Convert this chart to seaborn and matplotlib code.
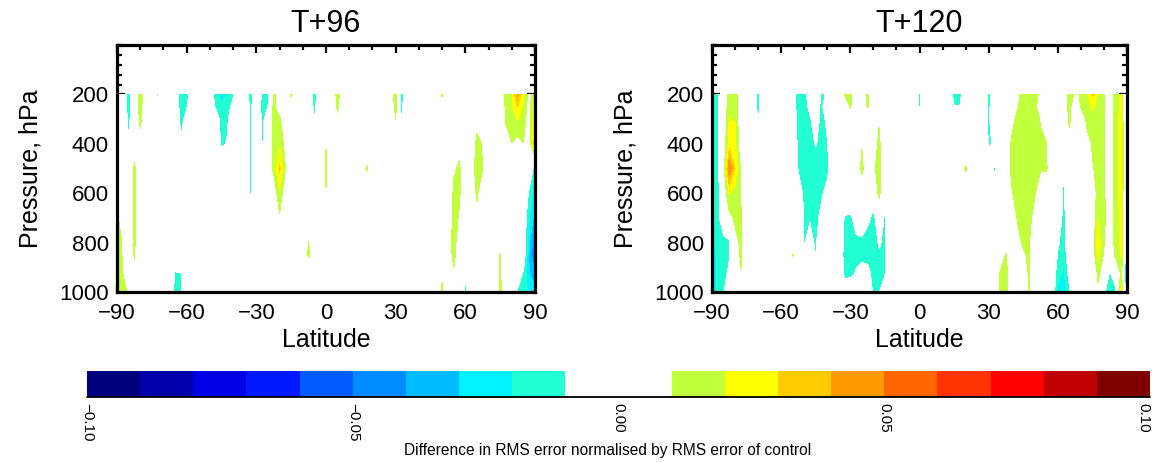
import numpy as np
import matplotlib
matplotlib.use("Agg")
import matplotlib.pyplot as plt
from matplotlib.ticker import MultipleLocator
import seaborn as sns

# ---------------- data ----------------
latitudes = np.arange(-90, 90.01, 2.5)
pressure_levels = [200, 250, 300, 400, 500, 600, 700, 800, 850, 925, 1000]
panel_titles = ["T+96", "T+120"]
contour_levels = np.round(np.arange(-0.10, 0.1001, 0.01), 2)
band_colors = ["#00007F", "#0000A8", "#0000E6", "#0018FF", "#005CFF",
               "#008CFF", "#00BCFF", "#00F2FF", "#22FFD2", "#FFFFFF",
               "#FFFFFF", "#C2FF3C", "#FFFF00", "#FFCC00", "#FF9A00",
               "#FF6600", "#FF3300", "#FF0000", "#C00000", "#800000"]
cbar_ticks = [-0.10, -0.05, 0.0, 0.05, 0.10]
cbar_ticklabels = ["\u22120.10", "\u22120.05", "0.00", "0.05", "0.10"]
lat_ticks = [-90, -60, -30, 0, 30, 60, 90]
lat_ticklabels = ["\u221290", "\u221260", "\u221230", "0", "30", "60", "90"]
pressure_ticks = [200, 400, 600, 800, 1000]
cbar_label = "Difference in RMS error normalised by RMS error of control"

# (latitude, pressure hPa, value); unlisted grid points are 0
t96_points = [
    (-90, 200, -0.012), (-90, 250, -0.008), (-90, 400, -0.005), (-90, 500, -0.012),
    (-90, 600, 0.009), (-90, 700, 0.013), (-90, 800, 0.015), (-90, 850, 0.016),
    (-90, 925, 0.017), (-90, 1000, 0.018),
    (-87.5, 800, 0.009), (-87.5, 850, 0.009), (-87.5, 925, 0.010), (-87.5, 1000, 0.012),
    (-85, 1000, 0.009),
    (-85, 200, -0.017), (-85, 250, -0.015), (-85, 300, -0.013), (-85, 400, -0.009),
    (-80, 200, 0.016), (-80, 250, 0.014), (-80, 300, 0.012), (-80, 400, 0.007),
    (-82.5, 400, 0.006), (-82.5, 500, 0.0115), (-82.5, 600, 0.0115), (-82.5, 700, 0.0115),
    (-82.5, 800, 0.0115), (-82.5, 850, 0.011), (-82.5, 925, 0.007),
    (-72.5, 200, -0.012), (-80, 850, -0.0105),
    (-62.5, 200, -0.017), (-62.5, 250, -0.015), (-62.5, 300, -0.013), (-62.5, 400, -0.009),
    (-60, 200, -0.015), (-60, 250, -0.011), (-60, 300, -0.007),
    (-65, 1000, -0.014), (-62.5, 1000, -0.011), (-65, 925, -0.011), (-62.5, 925, -0.0105),
    (-60, 850, -0.0105),
    (-47.5, 200, -0.016), (-45, 200, -0.024), (-42.5, 200, -0.0195), (-40, 200, -0.012),
    (-47.5, 250, -0.012), (-45, 250, -0.018), (-42.5, 250, -0.015), (-40, 250, -0.006),
    (-45, 300, -0.016), (-42.5, 300, -0.012), (-45, 400, -0.012), (-42.5, 400, -0.009),
    (-32.5, 200, -0.015), (-32.5, 250, -0.013), (-32.5, 300, -0.012), (-32.5, 400, -0.012),
    (-32.5, 500, -0.0115), (-32.5, 600, -0.011), (-32.5, 700, -0.008),
    (-27.5, 200, -0.012), (-25, 200, -0.012), (-27.5, 250, -0.013), (-27.5, 300, -0.012),
    (-27.5, 400, -0.0115), (-27.5, 500, -0.0095), (-25, 250, -0.010), (-25, 300, -0.006),
    (-22.5, 200, 0.013), (-22.5, 250, 0.013), (-22.5, 300, 0.013), (-22.5, 400, 0.014),
    (-22.5, 500, 0.013), (-20, 300, 0.012), (-20, 400, 0.018), (-20, 500, 0.032),
    (-20, 600, 0.019), (-20, 700, 0.008), (-17.5, 500, 0.010), (-17.5, 400, 0.006),
    (-15, 200, 0.012), (-20, 850, -0.011),
    (-5, 200, -0.016), (-5, 250, -0.013), (-5, 300, -0.0098),
    (5, 200, 0.014), (5, 250, 0.0115), (5, 300, 0.008),
    (0, 400, 0.0095), (0, 500, 0.0115), (0, 600, 0.0095),
    (-7.5, 800, 0.0105), (-7.5, 850, 0.0115),
    (30, 200, 0.016), (30, 250, 0.013), (30, 300, 0.010),
    (32.5, 200, -0.015), (32.5, 250, -0.013), (32.5, 300, -0.011), (32.5, 400, -0.005),
    (17.5, 500, 0.0115),
    (22.5, 500, -0.0108), (22.5, 600, -0.011), (20, 700, -0.011), (20, 800, -0.0108),
    (20, 850, -0.0103),
    (50, 200, 0.012),
    (55, 500, 0.009), (55, 600, 0.0115), (55, 700, 0.013), (55, 800, 0.016), (55, 850, 0.014),
    (55, 925, 0.008), (57.5, 400, 0.008), (57.5, 500, 0.011), (57.5, 600, 0.011),
    (57.5, 700, 0.009),
    (65, 300, 0.006), (65, 400, 0.013), (65, 500, 0.017), (65, 600, 0.012), (65, 700, 0.006),
    (67.5, 400, 0.009), (67.5, 500, 0.010),
    (50, 1000, 0.012), (50, 925, 0.008), (60, 1000, -0.013), (60, 925, -0.009),
    (75, 850, 0.0105), (75, 925, 0.0115), (75, 1000, 0.012),
    (77.5, 200, 0.013), (77.5, 250, 0.012), (77.5, 300, 0.011), (77.5, 400, 0.006),
    (80, 200, 0.019), (80, 250, 0.018), (80, 300, 0.014), (80, 400, 0.0098),
    (82.5, 200, 0.042), (82.5, 250, 0.030), (82.5, 300, 0.021), (82.5, 400, 0.005),
    (85, 200, 0.022), (85, 250, 0.018), (85, 300, 0.014), (85, 400, 0.0098),
    (87.5, 200, 0.004), (87.5, 250, 0.004), (87.5, 300, 0.004),
    (90, 200, 0.022), (90, 250, 0.025), (90, 300, 0.028), (90, 400, 0.038),
    (90, 500, -0.015), (90, 600, -0.025), (90, 700, -0.035), (90, 800, -0.050),
    (90, 850, -0.052), (90, 925, -0.040), (90, 1000, -0.025),
    (87.5, 600, -0.012), (87.5, 700, -0.020), (87.5, 800, -0.028), (87.5, 850, -0.032),
    (87.5, 925, -0.030), (87.5, 1000, -0.022),
    (85, 925, -0.012), (85, 1000, -0.015), (82.5, 1000, -0.012), (82.5, 500, -0.0105),
]

t120_points = [
    (-90, 200, -0.025), (-90, 250, -0.025), (-90, 300, -0.025), (-90, 400, -0.028),
    (-90, 500, -0.025), (-90, 600, -0.022), (-90, 700, -0.025), (-90, 800, -0.030),
    (-90, 850, -0.033), (-90, 925, -0.038), (-90, 1000, -0.040),
    (-87.5, 200, -0.012), (-87.5, 250, -0.012), (-87.5, 300, -0.012), (-87.5, 400, -0.012),
    (-87.5, 500, -0.012), (-87.5, 600, -0.014), (-87.5, 700, -0.014), (-87.5, 800, -0.015),
    (-87.5, 850, -0.015), (-87.5, 925, -0.015), (-87.5, 1000, -0.015),
    (-85, 800, -0.014), (-85, 850, -0.015), (-85, 925, -0.013), (-85, 1000, -0.011),
    (-82.5, 800, -0.012), (-82.5, 850, -0.011), (-82.5, 925, -0.008),
    (-82.5, 200, 0.014), (-82.5, 250, 0.016), (-82.5, 300, 0.0205), (-82.5, 400, 0.025),
    (-82.5, 500, 0.050), (-82.5, 600, 0.021), (-82.5, 700, 0.006),
    (-80, 200, 0.016), (-80, 250, 0.017), (-80, 300, 0.0195), (-80, 400, 0.023),
    (-80, 500, 0.030), (-80, 600, 0.016), (-80, 700, 0.012), (-80, 800, 0.006),
    (-85, 500, 0.003), (-77.5, 500, 0.008),
    (-77.5, 600, 0.009), (-77.5, 700, 0.0115), (-77.5, 800, 0.012), (-77.5, 850, 0.012),
    (-77.5, 925, 0.0095),
    (-70, 200, -0.014), (-70, 250, -0.013), (-70, 300, -0.011), (-70, 400, -0.007),
    (-52.5, 200, -0.018), (-52.5, 250, -0.018), (-52.5, 300, -0.016), (-52.5, 400, -0.013),
    (-52.5, 500, -0.011), (-52.5, 600, -0.005),
    (-50, 200, -0.013), (-50, 250, -0.013), (-50, 300, -0.015), (-50, 400, -0.016),
    (-50, 500, -0.016), (-50, 600, -0.012), (-50, 700, -0.011), (-50, 800, -0.0105),
    (-50, 850, -0.0105), (-50, 925, -0.0105), (-50, 1000, -0.011),
    (-47.5, 200, -0.006), (-47.5, 250, -0.008), (-47.5, 300, -0.011), (-47.5, 400, -0.014),
    (-47.5, 500, -0.018), (-47.5, 600, -0.014), (-47.5, 700, -0.011), (-47.5, 800, -0.006),
    (-45, 250, -0.002), (-45, 300, -0.005), (-45, 400, -0.009), (-45, 500, -0.018),
    (-45, 600, -0.016), (-45, 700, -0.014), (-45, 800, -0.012), (-45, 850, -0.0105),
    (-45, 925, -0.005),
    (-42.5, 200, -0.013), (-42.5, 250, -0.013), (-42.5, 300, -0.013), (-42.5, 400, -0.015),
    (-42.5, 500, -0.017), (-42.5, 600, -0.012), (-42.5, 700, -0.006),
    (-40, 200, -0.008), (-40, 300, -0.008), (-40, 400, -0.0105), (-40, 500, -0.014),
    (-40, 600, -0.005),
    (-32.5, 700, -0.011), (-32.5, 800, -0.013), (-32.5, 850, -0.014), (-32.5, 925, -0.012),
    (-32.5, 1000, -0.005),
    (-30, 700, -0.012), (-30, 800, -0.014), (-30, 850, -0.015), (-30, 925, -0.013),
    (-27.5, 700, -0.006), (-27.5, 800, -0.012), (-27.5, 850, -0.013), (-27.5, 925, -0.009),
    (-25, 800, -0.013), (-25, 850, -0.012), (-25, 925, -0.007),
    (-22.5, 700, -0.008), (-22.5, 800, -0.014), (-22.5, 850, -0.012), (-22.5, 925, -0.008),
    (-20, 600, -0.006), (-20, 700, -0.012), (-20, 800, -0.014), (-20, 850, -0.013),
    (-20, 925, -0.012), (-20, 1000, -0.012),
    (-17.5, 700, -0.005), (-17.5, 800, -0.009), (-17.5, 850, -0.011), (-17.5, 925, -0.013),
    (-17.5, 1000, -0.011),
    (-17.5, 300, 0.008), (-17.5, 400, 0.014), (-17.5, 500, 0.019), (-17.5, 600, 0.014),
    (-20, 500, 0.005),
    (-15, 200, -0.0105), (-15, 250, -0.0105), (-15, 300, -0.0105), (-15, 400, -0.011),
    (-15, 500, -0.011), (-15, 600, -0.0105), (-15, 700, -0.011), (-15, 800, -0.012),
    (-15, 850, -0.012), (-15, 925, -0.011),
    (-30, 200, 0.014), (-30, 250, 0.011), (-30, 300, 0.005), (-32.5, 200, 0.010),
    (-22.5, 200, 0.013), (-22.5, 250, 0.011),
    (-25, 400, 0.009), (-25, 500, 0.013),
    (0, 200, -0.013), (0, 250, -0.011),
    (-67.5, 1000, -0.012), (-60, 1000, -0.011), (-60, 925, -0.0095), (-35, 1000, -0.012),
    (-55, 850, 0.0108),
    (15, 200, -0.014), (17.5, 200, -0.014), (15, 250, -0.0095), (17.5, 250, -0.0095),
    (30, 200, -0.014), (30, 250, -0.013), (30, 300, -0.012), (30, 400, -0.011),
    (32.5, 400, -0.009), (32.5, 500, -0.0112), (32.5, 600, -0.0105), (32.5, 700, -0.008),
    (20, 500, 0.0115),
    (40, 300, 0.006), (40, 400, 0.012), (40, 500, 0.013), (40, 600, 0.009),
    (42.5, 200, 0.008), (42.5, 250, 0.009), (42.5, 300, 0.013), (42.5, 400, 0.016),
    (42.5, 500, 0.017), (42.5, 600, 0.014), (42.5, 700, 0.011), (42.5, 800, 0.006),
    (45, 200, 0.013), (45, 250, 0.014), (45, 300, 0.016), (45, 400, 0.018), (45, 500, 0.019),
    (45, 600, 0.017), (45, 700, 0.015), (45, 800, 0.012), (45, 850, 0.008),
    (47.5, 200, 0.015), (47.5, 250, 0.016), (47.5, 300, 0.017), (47.5, 400, 0.018),
    (47.5, 500, 0.019), (47.5, 600, 0.016), (47.5, 700, 0.013), (47.5, 800, 0.011),
    (47.5, 850, 0.012), (47.5, 925, 0.012), (47.5, 1000, 0.011),
    (50, 200, 0.013), (50, 250, 0.014), (50, 300, 0.015), (50, 400, 0.016), (50, 500, 0.016),
    (50, 600, 0.011), (50, 700, 0.006),
    (52.5, 200, 0.008), (52.5, 300, 0.009), (52.5, 400, 0.012), (52.5, 500, 0.011),
    (55, 400, 0.0105), (55, 500, 0.0115),
    (37.5, 850, 0.011), (37.5, 925, 0.013), (35, 925, 0.011), (37.5, 1000, 0.014),
    (35, 1000, 0.012),
    (62.5, 500, -0.009), (62.5, 600, -0.012), (62.5, 700, -0.014), (62.5, 800, -0.016),
    (62.5, 850, -0.018), (62.5, 925, -0.022), (62.5, 1000, -0.028),
    (60, 800, -0.008), (60, 850, -0.011), (60, 925, -0.016), (60, 1000, -0.022),
    (65, 925, -0.006), (65, 1000, -0.012),
    (65, 200, 0.016), (65, 250, 0.014), (65, 300, 0.012), (65, 400, 0.006), (67.5, 200, 0.008),
    (70, 200, 0.011), (70, 250, 0.0105),
    (72.5, 200, 0.016), (72.5, 250, 0.015), (72.5, 300, 0.012), (72.5, 400, 0.006),
    (72.5, 500, -0.0115),
    (75, 200, 0.032), (75, 250, 0.022), (75, 300, 0.015), (75, 400, 0.011), (75, 500, 0.009),
    (77.5, 200, 0.018), (77.5, 250, 0.016), (77.5, 300, 0.015), (77.5, 400, 0.014),
    (77.5, 500, 0.013), (77.5, 600, 0.015), (77.5, 700, 0.020), (77.5, 800, 0.026),
    (77.5, 850, 0.024), (77.5, 925, 0.012), (77.5, 1000, 0.008),
    (80, 200, 0.012), (80, 250, 0.012), (80, 300, 0.011), (80, 400, 0.012), (80, 500, 0.012),
    (80, 600, 0.012), (80, 700, 0.013), (80, 800, 0.011), (80, 850, 0.008), (80, 925, 0.004),
    (80, 1000, -0.008),
    (82.5, 925, -0.011), (82.5, 1000, -0.018),
    (85, 200, 0.015), (85, 250, 0.015), (85, 300, 0.015), (85, 400, 0.016), (85, 500, 0.016),
    (85, 600, 0.016), (85, 700, 0.015), (85, 800, 0.014), (85, 850, 0.012), (85, 925, -0.005),
    (85, 1000, -0.012),
    (87.5, 200, 0.022), (87.5, 250, 0.022), (87.5, 300, 0.024), (87.5, 400, 0.025),
    (87.5, 500, 0.025), (87.5, 600, 0.024), (87.5, 700, 0.022), (87.5, 800, 0.022),
    (87.5, 850, 0.021), (87.5, 925, 0.012), (87.5, 1000, 0.025),
    (90, 200, -0.022), (90, 250, -0.022), (90, 300, -0.022), (90, 400, -0.022),
    (90, 500, -0.022), (90, 600, -0.022), (90, 700, -0.022), (90, 800, -0.022),
    (90, 850, -0.022), (90, 925, -0.026), (90, 1000, -0.024),
]


def to_grid(points):
    grid = np.zeros((len(pressure_levels), len(latitudes)))
    for lat, p, v in points:
        grid[pressure_levels.index(p), int(round((lat + 90) / 2.5))] = v
    return grid


# ---------------- style ----------------
sns.set_theme(style="white")
plt.rcParams["font.family"] = ["Liberation Sans", "DejaVu Sans"]
plt.rcParams["axes.unicode_minus"] = True

W, H = 1152, 462
fig = plt.figure(figsize=(W / 100, H / 100), dpi=100)
fig.patch.set_facecolor("white")

panel_boxes = [(117, 45, 535, 292), (712, 45, 1127, 292)]
fields = [to_grid(t96_points), to_grid(t120_points)]

cs = None
for (x0, y0, x1, y1), title, field in zip(panel_boxes, panel_titles, fields):
    ax = fig.add_axes([x0 / W, 1 - y1 / H, (x1 - x0) / W, (y1 - y0) / H])
    ax.set_facecolor("white")
    cs = ax.contourf(latitudes, pressure_levels, field, levels=contour_levels,
                     colors=band_colors)
    ax.set_xlim(-90, 90)
    ax.set_ylim(1000, 0)
    ax.set_xticks(lat_ticks)
    ax.set_xticklabels(lat_ticklabels)
    ax.xaxis.set_minor_locator(MultipleLocator(10))
    ax.set_yticks(pressure_ticks)
    ax.yaxis.set_minor_locator(MultipleLocator(40))
    ax.tick_params(which="both", direction="in", top=True, right=True,
                   bottom=True, left=True, color="black", width=1.6,
                   labelsize=16, labelcolor="black")
    ax.tick_params(which="major", length=6)
    ax.tick_params(which="minor", length=3.5)
    ax.tick_params(axis="x", which="major", pad=8)
    ax.tick_params(axis="y", which="major", pad=6)
    for sp in ax.spines.values():
        sp.set_visible(True)
        sp.set_color("black")
        sp.set_linewidth(2.3)
    ax.set_xlabel("Latitude", fontsize=18, color="black", labelpad=3)
    ax.set_ylabel("Pressure, hPa", fontsize=18, color="black", labelpad=12)
    ax.set_title(title, fontsize=22, color="black", pad=9)

# ---------------- colorbar ----------------
cax = fig.add_axes([87 / W, 1 - 397 / H, (1150 - 87) / W, 26 / H])
cb = fig.colorbar(cs, cax=cax, orientation="horizontal")
cb.outline.set_visible(False)
cb.set_ticks(cbar_ticks)
cb.set_ticklabels(cbar_ticklabels)
cax.tick_params(length=0, labelsize=11, pad=4, colors="black")
tick_texts = cax.get_xticklabels()
for i, lab in enumerate(tick_texts):
    lab.set_rotation(-90)
    lab.set_va("top")
    lab.set_ha("right" if i == len(tick_texts) - 1 else "center")
cax.plot([0, 1], [0, 0], transform=cax.transAxes, color="black", lw=1.3,
         clip_on=False)
fig.text(608 / W, 1 - 451 / H, cbar_label, ha="center", va="center",
         fontsize=11.2, color="black")

fig.savefig("out.png", dpi=100, facecolor="white")
